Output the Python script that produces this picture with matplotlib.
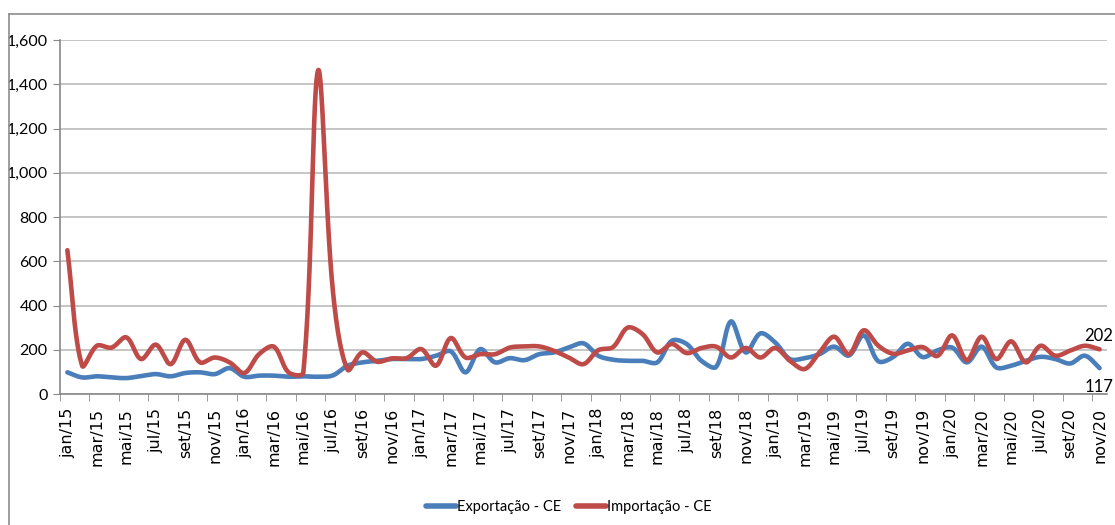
import matplotlib
matplotlib.use('Agg')
import matplotlib.pyplot as plt
from matplotlib.lines import Line2D
from matplotlib.ticker import FuncFormatter
import numpy as np

# monthly labels jan/15 .. nov/20
meses = ['jan', 'fev', 'mar', 'abr', 'mai', 'jun', 'jul', 'ago', 'set', 'out', 'nov', 'dez']
labels = [m + '/' + str(a) for a in range(15, 21) for m in meses][:71]

exportacao = [98, 75, 80, 75, 72, 81, 90, 80, 95, 98, 90, 117,
              78, 83, 83, 78, 80, 78, 84, 128, 143, 150, 158, 158,
              158, 173, 193, 98, 203, 143, 162, 153, 180, 188, 210, 229,
              173, 155, 150, 150, 143, 241, 226, 150, 123, 328, 188, 274,
              233, 158, 162, 180, 214, 174, 265, 148, 167, 227, 167, 197,
              210, 143, 214, 120, 128, 150, 168, 158, 138, 173, 117]
importacao = [650, 128, 218, 210, 256, 158, 223, 135, 245, 143, 165, 143,
              95, 180, 214, 98, 97, 1462, 470, 110, 188, 146, 161, 162,
              203, 128, 253, 165, 180, 180, 210, 215, 215, 195, 165, 135,
              198, 212, 300, 271, 188, 226, 185, 208, 214, 165, 208, 165,
              208, 150, 113, 188, 259, 180, 288, 218, 182, 197, 212, 172,
              265, 153, 259, 158, 238, 143, 218, 173, 196, 218, 202]

# pixel scale of the plot area, used so the smoothing behaves like excel
PX_X = 14.72
PX_Y = 354.0 / 1600


def suaviza(y, n=30):
    # excel style smoothed line: bezier, tangent split by segment lengths
    y = np.asarray(y, dtype=float)
    x = np.arange(len(y), dtype=float)
    P = np.column_stack([x * PX_X, y * PX_Y])
    N = len(P)
    cin = P.copy()
    cout = P.copy()
    for i in range(N):
        a = P[max(i - 1, 0)]
        b = P[min(i + 1, N - 1)]
        d = b - a
        l1 = np.hypot(*(P[i] - a))
        l2 = np.hypot(*(b - P[i]))
        if l1 + l2 == 0:
            continue
        cin[i] = P[i] - d * l1 / (l1 + l2) / 3
        cout[i] = P[i] + d * l2 / (l1 + l2) / 3
    t = np.linspace(0, 1, n, endpoint=False)[:, None]
    pts = []
    for i in range(N - 1):
        p0, p1, p2, p3 = P[i], cout[i], cin[i + 1], P[i + 1]
        pts.append((1 - t) ** 3 * p0 + 3 * (1 - t) ** 2 * t * p1
                   + 3 * (1 - t) * t ** 2 * p2 + t ** 3 * p3)
    pts.append(P[-1:])
    pts = np.vstack(pts)
    return pts[:, 0] / PX_X, pts[:, 1] / PX_Y


azul = '#4a7ebb'
vermelho = '#be4b48'
narrow = ['Liberation Sans Narrow', 'Lato', 'DejaVu Sans']

fig = plt.figure(figsize=(11.15, 5.25), dpi=100)
ax = fig.add_axes([0.0538, 0.2495, 0.9390, 0.6743])

xe, ye = suaviza(exportacao)
xi, yi = suaviza(importacao)
ax.plot(xe, ye, color=azul, lw=3.3, solid_capstyle='round', label='Exportação - CE', zorder=3)
ax.plot(xi, yi, color=vermelho, lw=3.3, solid_capstyle='round', label='Importação - CE', zorder=4)

ax.set_xlim(-0.5, len(labels) - 0.5)
ax.set_ylim(0, 1600)
ax.set_yticks(range(0, 1601, 200))
ax.yaxis.set_major_formatter(FuncFormatter(lambda v, p: '{:,.0f}'.format(v)))
ax.grid(axis='y', color='#c0c0c0', lw=1.3)
ax.set_axisbelow(True)

pos = np.arange(len(labels))
ax.set_xticks(pos[::2])
ax.set_xticklabels(labels[::2], rotation=90, fontsize=11.5, family='DejaVu Sans')
ax.set_xticks(np.arange(-0.5, len(labels), 2), minor=True)
ax.tick_params(axis='x', which='major', length=0, pad=10)
ax.tick_params(axis='x', which='minor', length=5, color='#888888')
ax.tick_params(axis='y', length=5, color='#888888', pad=4)
for lb in ax.get_yticklabels():
    lb.set_family(narrow)
    lb.set_fontsize(11.5)

for s in ['top', 'right']:
    ax.spines[s].set_visible(False)
for s in ['left', 'bottom']:
    ax.spines[s].set_color('#888888')
    ax.spines[s].set_linewidth(1.2)

ax.annotate(str(importacao[-1]), (pos[-1], importacao[-1]), xytext=(10, 6),
            textcoords='offset points', fontsize=12, family=narrow, ha='right',
            annotation_clip=False)
ax.annotate(str(exportacao[-1]), (pos[-1], exportacao[-1]), xytext=(10, -17),
            textcoords='offset points', fontsize=12, family=narrow, ha='right',
            annotation_clip=False)

leg = fig.legend(loc='center', bbox_to_anchor=(0.510, 0.035), ncol=2, frameon=False,
                 prop={'family': narrow, 'size': 10.5}, handlelength=2.1,
                 handletextpad=0.05, columnspacing=1.0)
for h in leg.get_lines():
    h.set_linewidth(4)

# chart frame (left and top edges visible)
fig.add_artist(Line2D([0.008, 0.008], [0.0, 0.973], color='#8c8c8c', lw=1.2))
fig.add_artist(Line2D([0.008, 1.0], [0.973, 0.973], color='#8c8c8c', lw=1.2))

fig.savefig('out.png', dpi=100)
